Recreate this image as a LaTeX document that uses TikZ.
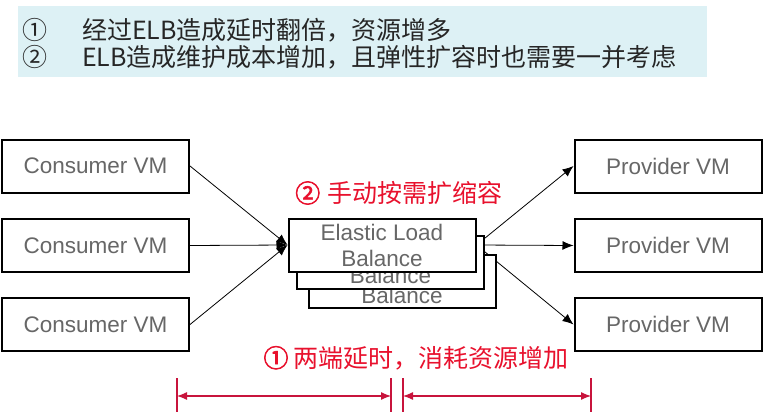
\documentclass[tikz,border=0pt]{standalone}
\usepackage{fontspec}
\setmainfont{Liberation Sans}
\newfontfamily\cjk{Noto Sans CJK SC}
\newfontfamily\cjkheavy[FakeBold=2.5]{Noto Sans CJK SC}
\usetikzlibrary{arrows.meta, backgrounds}

\definecolor{bannerbg}{HTML}{DDF1F5}
\definecolor{vmgray}{HTML}{676767}
\definecolor{notered}{HTML}{E8112D}
\definecolor{dimred}{HTML}{C8143C}

\begin{document}
\begin{tikzpicture}[x=1pt, y=-1pt]
    \useasboundingbox (0, 0) rectangle (764, 415); % bounding box

    % banner
    \fill [bannerbg] (18, 6) rectangle (707, 77);
    \begin{scope}[every node/.style={inner sep=0pt, text=black!85, font=\cjk\fontsize{25}{28}\selectfont}]
        \node at (35, 30) (n1) {①};
        \node at (35, 57) (n2) {②};
        \node at (82, 30) [anchor=west] (line1) {经过ELB造成延时翻倍，资源增多};
        \node at (82, 57) [anchor=west] (line2) {ELB造成维护成本增加，且弹性扩容时也需要一并考虑};
    \end{scope}

    % boxes
    \begin{scope}[every node/.style={draw, line width=2pt, fill=white, inner sep=0pt, minimum width=187pt, minimum height=53pt, align=center, text=vmgray, font=\fontsize{22.5}{26}\selectfont}]
        \node at ( 95.5, 166)   (cons1) {Consumer VM};
        \node at ( 95.5, 245.5) (cons2) {Consumer VM};
        \node at ( 95.5, 324.5) (cons3) {Consumer VM};
        \node at (668,   166)   (prov1) {Provider VM};
        \node at (668,   245.5) (prov2) {Provider VM};
        \node at (668,   324.5) (prov3) {Provider VM};

        % stacked balancers (top line hidden behind the front one)
        \node at (402,   281.5) (elb3) {\strut\\Balance};
        \node at (390.5, 262)   (elb2) {\strut\\Balance};
        \node at (382,   245)   (elb)  {Elastic Load\\Balance};
    \end{scope}

    % routes
    \begin{pgfonlayer}{background}
    \begin{scope}[every path/.style={line width=0.8pt, -{Latex[length=11pt, width=9pt]}}]
        \draw (cons1.east) -- (elb.west);
        \draw (cons2.east) -- (elb.west);
        \draw (cons3.east) -- (elb.west);
        \draw (elb.east)   -- (prov1.west);
        \draw (elb.east)   -- (prov2.west);
        \draw (elb.east)   -- (prov3.west);
    \end{scope}
    \end{pgfonlayer}

    % notes
    \begin{scope}[every node/.style={inner sep=0pt, text=notered, font=\cjk\fontsize{25}{28}\selectfont}]
        \node at (399, 193) (scaling) {{\cjkheavy ②}\hspace{0.3em}手动按需扩缩容};
        \node at (416, 358) (latency) {{\cjkheavy ①}\hspace{0.2em}两端延时，消耗资源增加};
    \end{scope}

    % dimension marks
    \coordinate (t1) at (177, 396);
    \coordinate (t2) at (391, 396);
    \coordinate (t3) at (403, 396);
    \coordinate (t4) at (591, 396);
    \begin{scope}[dimred, line width=1.2pt]
        \foreach \t in {t1, t2, t3, t4}
            \draw (\t) ++(0, -18) -- ++(0, 34);
        \draw [{Latex[length=10pt, width=8pt]}-{Latex[length=10pt, width=8pt]}] (t1) -- (t2);
        \draw [{Latex[length=10pt, width=8pt]}-{Latex[length=10pt, width=8pt]}] (t3) -- (t4);
    \end{scope}
\end{tikzpicture}
\end{document}
